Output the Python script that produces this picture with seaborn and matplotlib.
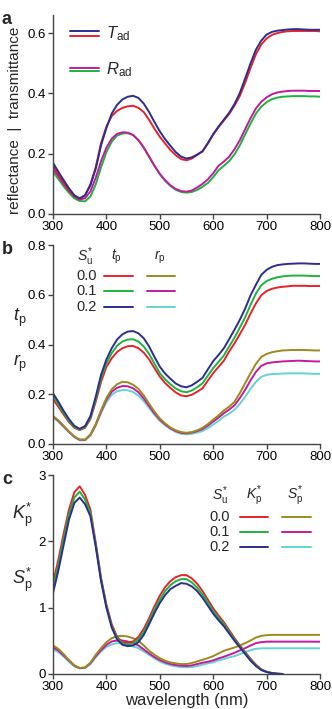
import numpy as np
import pandas as pd
import matplotlib
matplotlib.use("Agg")
import matplotlib.pyplot as plt
import seaborn as sns

sns.set_theme(style="ticks")
plt.rcParams['font.family'] = ['Liberation Sans', 'DejaVu Sans']
plt.rcParams['mathtext.fontset'] = 'custom'
plt.rcParams['mathtext.rm'] = 'Liberation Sans'
plt.rcParams['mathtext.it'] = 'Liberation Sans:italic'
plt.rcParams['mathtext.bf'] = 'Liberation Sans:bold'

# ---------------- data ----------------
wavelength = list(range(300, 801, 10))

# panel a
T_ad_blue = [0.170, 0.140, 0.112, 0.085, 0.062, 0.052, 0.062, 0.095, 0.150, 0.228,
             0.285, 0.333, 0.362, 0.380, 0.389, 0.392, 0.385, 0.366, 0.338, 0.305,
             0.274, 0.248, 0.226, 0.205, 0.190, 0.184, 0.188, 0.197, 0.208, 0.235,
             0.265, 0.290, 0.313, 0.336, 0.365, 0.402, 0.450, 0.500, 0.545, 0.575,
             0.595, 0.604, 0.608, 0.610, 0.612, 0.613, 0.613, 0.612, 0.611, 0.611, 0.611]
T_ad_red = [0.162, 0.132, 0.105, 0.080, 0.060, 0.050, 0.062, 0.098, 0.155, 0.235,
            0.290, 0.325, 0.342, 0.352, 0.357, 0.359, 0.352, 0.338, 0.312, 0.283,
            0.256, 0.234, 0.212, 0.195, 0.182, 0.178, 0.184, 0.196, 0.208, 0.234,
            0.263, 0.288, 0.310, 0.332, 0.360, 0.392, 0.436, 0.485, 0.530, 0.562,
            0.582, 0.594, 0.600, 0.604, 0.606, 0.607, 0.607, 0.607, 0.607, 0.607, 0.606]
R_ad_magenta = [0.151, 0.125, 0.100, 0.077, 0.058, 0.048, 0.052, 0.075, 0.120, 0.175,
                0.220, 0.250, 0.266, 0.271, 0.270, 0.262, 0.245, 0.220, 0.190, 0.160,
                0.133, 0.112, 0.095, 0.083, 0.076, 0.074, 0.078, 0.088, 0.100, 0.115,
                0.135, 0.160, 0.174, 0.190, 0.215, 0.245, 0.282, 0.318, 0.350, 0.372,
                0.387, 0.397, 0.403, 0.406, 0.408, 0.409, 0.409, 0.409, 0.408, 0.408, 0.408]
R_ad_green = [0.140, 0.116, 0.092, 0.070, 0.052, 0.043, 0.042, 0.058, 0.098, 0.155,
              0.205, 0.240, 0.260, 0.267, 0.268, 0.262, 0.245, 0.220, 0.190, 0.160,
              0.132, 0.110, 0.093, 0.080, 0.073, 0.071, 0.073, 0.080, 0.090, 0.103,
              0.122, 0.145, 0.160, 0.176, 0.198, 0.228, 0.265, 0.300, 0.333, 0.356,
              0.371, 0.381, 0.386, 0.389, 0.390, 0.391, 0.391, 0.391, 0.390, 0.390, 0.389]

# panel b  (Su* = 0.0, 0.1, 0.2)
t_p_00 = [0.180, 0.150, 0.118, 0.088, 0.065, 0.056, 0.065, 0.100, 0.170, 0.250,
          0.310, 0.345, 0.370, 0.385, 0.393, 0.394, 0.385, 0.367, 0.340, 0.305,
          0.271, 0.245, 0.225, 0.207, 0.195, 0.192, 0.198, 0.210, 0.224, 0.255,
          0.285, 0.310, 0.335, 0.372, 0.405, 0.442, 0.480, 0.525, 0.565, 0.598,
          0.615, 0.624, 0.629, 0.632, 0.634, 0.636, 0.636, 0.636, 0.635, 0.635, 0.635]
t_p_01 = [0.193, 0.160, 0.125, 0.093, 0.068, 0.058, 0.068, 0.105, 0.180, 0.265,
          0.325, 0.365, 0.395, 0.412, 0.420, 0.421, 0.412, 0.392, 0.362, 0.323,
          0.285, 0.260, 0.240, 0.223, 0.212, 0.208, 0.215, 0.228, 0.244, 0.275,
          0.305, 0.330, 0.356, 0.392, 0.428, 0.468, 0.510, 0.560, 0.605, 0.638,
          0.655, 0.664, 0.670, 0.674, 0.676, 0.677, 0.677, 0.677, 0.676, 0.675, 0.675]
t_p_02 = [0.204, 0.170, 0.133, 0.100, 0.073, 0.061, 0.072, 0.112, 0.190, 0.278,
          0.340, 0.385, 0.420, 0.441, 0.452, 0.454, 0.445, 0.425, 0.392, 0.350,
          0.311, 0.283, 0.262, 0.243, 0.232, 0.228, 0.236, 0.250, 0.266, 0.300,
          0.333, 0.358, 0.385, 0.422, 0.460, 0.500, 0.545, 0.598, 0.640, 0.680,
          0.700, 0.712, 0.719, 0.722, 0.724, 0.725, 0.726, 0.726, 0.725, 0.724, 0.724]
r_p_00 = [0.113, 0.095, 0.073, 0.050, 0.030, 0.018, 0.018, 0.038, 0.080, 0.135,
          0.185, 0.220, 0.240, 0.250, 0.248, 0.238, 0.222, 0.195, 0.162, 0.130,
          0.103, 0.083, 0.066, 0.055, 0.048, 0.045, 0.048, 0.055, 0.065, 0.080,
          0.098, 0.115, 0.135, 0.150, 0.170, 0.205, 0.245, 0.285, 0.322, 0.350,
          0.362, 0.369, 0.373, 0.376, 0.377, 0.378, 0.378, 0.378, 0.377, 0.376, 0.376]
r_p_01 = [0.110, 0.093, 0.071, 0.049, 0.029, 0.017, 0.017, 0.036, 0.077, 0.130,
          0.178, 0.210, 0.226, 0.233, 0.232, 0.224, 0.208, 0.183, 0.153, 0.123,
          0.098, 0.079, 0.063, 0.052, 0.045, 0.043, 0.046, 0.052, 0.060, 0.074,
          0.090, 0.106, 0.124, 0.138, 0.156, 0.185, 0.218, 0.256, 0.290, 0.314,
          0.324, 0.328, 0.330, 0.332, 0.333, 0.334, 0.335, 0.334, 0.333, 0.332, 0.332]
r_p_02 = [0.108, 0.090, 0.068, 0.047, 0.027, 0.015, 0.015, 0.034, 0.074, 0.125,
          0.168, 0.198, 0.212, 0.217, 0.216, 0.209, 0.194, 0.172, 0.145, 0.117,
          0.093, 0.075, 0.060, 0.048, 0.041, 0.039, 0.041, 0.046, 0.052, 0.064,
          0.078, 0.093, 0.110, 0.122, 0.138, 0.162, 0.190, 0.222, 0.250, 0.270,
          0.278, 0.281, 0.282, 0.283, 0.284, 0.284, 0.284, 0.284, 0.283, 0.282, 0.282]

# panel c  (K_p* defined up to 730 nm)
K_p_00 = [1.38, 1.72, 2.12, 2.48, 2.74, 2.83, 2.70, 2.48, 1.98, 1.45,
          1.05, 0.75, 0.56, 0.48, 0.47, 0.49, 0.56, 0.68, 0.84, 1.02,
          1.18, 1.31, 1.40, 1.46, 1.49, 1.49, 1.44, 1.36, 1.25, 1.12,
          0.99, 0.88, 0.78, 0.66, 0.54, 0.43, 0.33, 0.23, 0.14, 0.07,
          0.035, 0.015, 0.005, 0.0]
K_p_01 = [1.30, 1.64, 2.04, 2.41, 2.66, 2.75, 2.63, 2.43, 1.95, 1.42,
          1.02, 0.72, 0.54, 0.46, 0.445, 0.46, 0.52, 0.63, 0.79, 0.97,
          1.12, 1.25, 1.34, 1.40, 1.43, 1.43, 1.38, 1.30, 1.20, 1.08,
          0.95, 0.845, 0.75, 0.635, 0.52, 0.415, 0.315, 0.215, 0.13, 0.065,
          0.032, 0.013, 0.004, 0.0]
K_p_02 = [1.22, 1.56, 1.95, 2.33, 2.58, 2.66, 2.56, 2.38, 1.92, 1.40,
          1.00, 0.70, 0.52, 0.44, 0.42, 0.43, 0.48, 0.59, 0.75, 0.92,
          1.07, 1.19, 1.28, 1.33, 1.37, 1.36, 1.32, 1.25, 1.15, 1.03,
          0.91, 0.81, 0.72, 0.61, 0.50, 0.40, 0.30, 0.20, 0.12, 0.06,
          0.03, 0.012, 0.004, 0.0]
S_p_00 = [0.43, 0.38, 0.30, 0.21, 0.13, 0.09, 0.10, 0.17, 0.29, 0.39,
          0.48, 0.54, 0.57, 0.575, 0.565, 0.54, 0.50, 0.43, 0.35, 0.29,
          0.24, 0.20, 0.175, 0.16, 0.15, 0.15, 0.165, 0.19, 0.215, 0.24,
          0.27, 0.31, 0.35, 0.375, 0.40, 0.43, 0.465, 0.505, 0.55, 0.575,
          0.585, 0.59, 0.59, 0.59, 0.59, 0.59, 0.59, 0.59, 0.59, 0.59, 0.59]
S_p_01 = [0.40, 0.355, 0.28, 0.20, 0.125, 0.088, 0.095, 0.16, 0.27, 0.36,
          0.44, 0.49, 0.505, 0.505, 0.49, 0.465, 0.43, 0.37, 0.31, 0.255,
          0.21, 0.175, 0.15, 0.135, 0.125, 0.12, 0.13, 0.15, 0.17, 0.185,
          0.205, 0.235, 0.26, 0.29, 0.32, 0.355, 0.39, 0.43, 0.465, 0.48,
          0.487, 0.488, 0.488, 0.488, 0.488, 0.488, 0.488, 0.488, 0.488, 0.487, 0.487]
S_p_02 = [0.37, 0.33, 0.26, 0.185, 0.115, 0.085, 0.09, 0.15, 0.25, 0.34,
          0.41, 0.445, 0.465, 0.465, 0.45, 0.415, 0.39, 0.34, 0.29, 0.235,
          0.19, 0.155, 0.13, 0.115, 0.103, 0.10, 0.105, 0.12, 0.14, 0.16,
          0.175, 0.205, 0.225, 0.25, 0.27, 0.30, 0.33, 0.36, 0.38, 0.387,
          0.387, 0.388, 0.388, 0.388, 0.388, 0.388, 0.388, 0.388, 0.388, 0.387, 0.387]

su_levels = ["0.0", "0.1", "0.2"]
x_ticks = [300, 400, 500, 600, 700, 800]

# ---------------- colours ----------------
BLUE = "#2b2e8f"
RED = "#e8212a"
GREEN = "#1db33c"
MAGENTA = "#c21aa0"
OLIVE = "#9c8a1e"
CYAN = "#66d2d2"
SPINE = "#444444"
LW = 1.4


def long_df(series):
    frames = []
    for name, vals in series:
        n = len(vals)
        frames.append(pd.DataFrame({"wl": wavelength[:n], "v": vals, "s": name}))
    return pd.concat(frames, ignore_index=True)


fig = plt.figure(figsize=(3.32, 7.09), dpi=100)
W, H = 332.0, 709.0
L, R = 53, 320


def make_ax(top, bottom):
    return fig.add_axes([L / W, 1 - bottom / H, (R - L) / W, (bottom - top) / H])


ax_a = make_ax(15, 214)
ax_b = make_ax(245, 444)
ax_c = make_ax(475, 674)

# panel a
df_a = long_df([("Rg", R_ad_green), ("Rm", R_ad_magenta), ("Tr", T_ad_red), ("Tb", T_ad_blue)])
sns.lineplot(data=df_a, x="wl", y="v", hue="s", ax=ax_a, legend=False, linewidth=LW,
             palette={"Tb": BLUE, "Tr": RED, "Rm": MAGENTA, "Rg": GREEN}, sort=False)
ax_a.set_ylim(0, 0.66)
ax_a.set_yticks([0.0, 0.2, 0.4, 0.6])
ax_a.set_yticklabels(["0.0", "0.2", "0.4", "0.6"])

# panel b
df_b = long_df([("r2", r_p_02), ("r1", r_p_01), ("r0", r_p_00),
                ("t0", t_p_00), ("t1", t_p_01), ("t2", t_p_02)])
sns.lineplot(data=df_b, x="wl", y="v", hue="s", ax=ax_b, legend=False, linewidth=LW,
             palette={"t0": RED, "t1": GREEN, "t2": BLUE, "r0": OLIVE, "r1": MAGENTA, "r2": CYAN},
             sort=False)
ax_b.set_ylim(0, 0.8)
ax_b.set_yticks([0.0, 0.2, 0.4, 0.6, 0.8])
ax_b.set_yticklabels(["0.0", "0.2", "0.4", "0.6", "0.8"])

# panel c
df_c = long_df([("s2", S_p_02), ("s1", S_p_01), ("s0", S_p_00),
                ("k0", K_p_00), ("k1", K_p_01), ("k2", K_p_02)])
sns.lineplot(data=df_c, x="wl", y="v", hue="s", ax=ax_c, legend=False, linewidth=LW,
             palette={"k0": RED, "k1": GREEN, "k2": BLUE, "s0": OLIVE, "s1": MAGENTA, "s2": CYAN},
             sort=False)
ax_c.set_ylim(0, 3)
ax_c.set_yticks([0, 1, 2, 3])
ax_c.set_yticklabels(["0", "1", "2", "3"])
ax_c.set_xlabel("wavelength (nm)", fontsize=12, labelpad=0)

for ax in (ax_a, ax_b, ax_c):
    ax.set_xlim(300, 800)
    ax.set_xticks(x_ticks)
    ax.set_xticklabels([str(t) for t in x_ticks])
    if ax is not ax_c:
        ax.set_xlabel("")
    ax.set_ylabel("")
    sns.despine(ax=ax)
    for sp in ("left", "bottom"):
        ax.spines[sp].set_color(SPINE)
        ax.spines[sp].set_linewidth(1.0)
    ax.tick_params(axis="both", direction="out", length=3.5, width=1.0, color=SPINE,
                   labelsize=9.5, labelcolor="black", pad=1.5)
    ax.patch.set_alpha(0)

# panel letters
for lab, ytop in (("a", 15), ("b", 245), ("c", 475)):
    fig.text(2 / W, 1 - (ytop - 4) / H, lab, fontsize=13, fontweight="bold", va="top", ha="left")

# panel a y label
fig.text(15 / W, 1 - 120 / H, "reflectance  |  transmittance", rotation=90,
         fontsize=11, va="center", ha="center")

# panel a legend (key lines drawn in axes fraction)
def key(ax, x0, x1, y, color):
    ax.plot([x0, x1], [y, y], transform=ax.transAxes, color=color, lw=LW, clip_on=False)

key(ax_a, 0.064, 0.172, 0.92, BLUE)
key(ax_a, 0.064, 0.172, 0.896, RED)
key(ax_a, 0.064, 0.172, 0.735, MAGENTA)
key(ax_a, 0.064, 0.172, 0.719, GREEN)
ax_a.text(0.2, 0.905, r"$\mathit{T}_{\mathrm{ad}}$", transform=ax_a.transAxes,
          fontsize=12, va="center", ha="left")
ax_a.text(0.2, 0.724, r"$\mathit{R}_{\mathrm{ad}}$", transform=ax_a.transAxes,
          fontsize=12, va="center", ha="left")

# panel b legend
hdr_kw = dict(fontsize=10, va="center", ha="center")
ax_b.text(0.12, 0.94, r"$\mathit{S}_{\mathrm{u}}^{*}$", transform=ax_b.transAxes, **hdr_kw)
ax_b.text(0.236, 0.94, r"$\mathit{t}_{\mathrm{p}}$", transform=ax_b.transAxes, **hdr_kw)
ax_b.text(0.40, 0.94, r"$\mathit{r}_{\mathrm{p}}$", transform=ax_b.transAxes, **hdr_kw)
for lvl, y, ct, cr in zip(su_levels, (0.845, 0.767, 0.69), (RED, GREEN, BLUE), (OLIVE, MAGENTA, CYAN)):
    ax_b.text(0.165, y, lvl, transform=ax_b.transAxes, fontsize=10.5, va="center", ha="right")
    key(ax_b, 0.191, 0.30, y, ct)
    key(ax_b, 0.352, 0.457, y, cr)

# panel c legend
ax_c.text(0.625, 0.895, r"$\mathit{S}_{\mathrm{u}}^{*}$", transform=ax_c.transAxes, **hdr_kw)
ax_c.text(0.755, 0.895, r"$\mathit{K}_{\mathrm{p}}^{*}$", transform=ax_c.transAxes, **hdr_kw)
ax_c.text(0.905, 0.895, r"$\mathit{S}_{\mathrm{p}}^{*}$", transform=ax_c.transAxes, **hdr_kw)
for lvl, y, ck, cs in zip(su_levels, (0.789, 0.714, 0.638), (RED, GREEN, BLUE), (OLIVE, MAGENTA, CYAN)):
    ax_c.text(0.663, y, lvl, transform=ax_c.transAxes, fontsize=10.5, va="center", ha="right")
    key(ax_c, 0.700, 0.805, y, ck)
    key(ax_c, 0.858, 0.966, y, cs)

# side labels for b and c
side_kw = dict(fontsize=13, va="center", ha="center")
fig.text(20 / W, 1 - 318 / H, r"$\mathit{t}_{\mathrm{p}}$", **side_kw)
fig.text(20 / W, 1 - 363 / H, r"$\mathit{r}_{\mathrm{p}}$", **side_kw)
fig.text(22 / W, 1 - 515 / H, r"$\mathit{K}_{\mathrm{p}}^{*}$", **side_kw)
fig.text(22 / W, 1 - 580 / H, r"$\mathit{S}_{\mathrm{p}}^{*}$", **side_kw)

fig.savefig("out.png", dpi=100)
